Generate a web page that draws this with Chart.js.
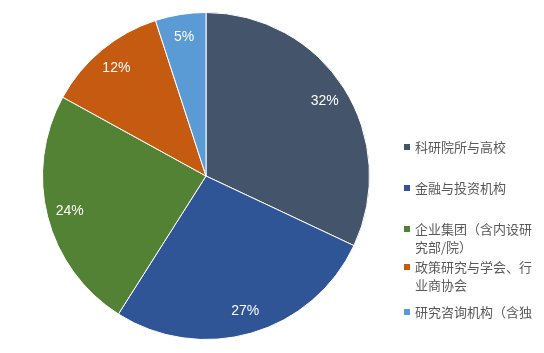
<!DOCTYPE html>
<html lang="zh">
<head>
<meta charset="UTF-8">
<title>机构类型分布</title>
<script src="https://cdn.jsdelivr.net/npm/chart.js"></script>
<style>
    html, body { margin: 0; padding: 0; background: #fff; }
    #wrap { width: 544px; height: 353px; position: relative; }
</style>
</head>
<body>
<div id="wrap"><canvas id="pie" width="544" height="353"></canvas></div>
<script>
// data
const categories = [
    ['科研院所与高校'],
    ['金融与投资机构'],
    ['企业集团（含内设研', '究部/院）'],
    ['政策研究与学会、行', '业商协会'],
    ['研究咨询机构（含独']
];
const shares = [32, 27, 24, 12, 5];
const colors = ['#44546A', '#2F5597', '#548235', '#C55A11', '#5B9BD5'];

// white percentage labels inside slices
const sliceLabels = {
    id: 'sliceLabels',
    afterDatasetsDraw(chart) {
        const ctx = chart.ctx;
        const meta = chart.getDatasetMeta(0);
        ctx.save();
        ctx.fillStyle = '#fff';
        ctx.font = '14px "Liberation Sans", Arial, sans-serif';
        ctx.textAlign = 'center';
        ctx.textBaseline = 'middle';
        meta.data.forEach((arc, i) => {
            const p = arc.getProps(['x', 'y', 'startAngle', 'endAngle', 'outerRadius'], true);
            const mid = (p.startAngle + p.endAngle) / 2;
            const r = p.outerRadius * 0.86;
            ctx.fillText(shares[i] + '%', p.x + Math.cos(mid) * r, p.y + Math.sin(mid) * r);
        });
        ctx.restore();
    }
};

// legend drawn on the right, like the office chart
const sideLegend = {
    id: 'sideLegend',
    afterDraw(chart) {
        const ctx = chart.ctx;
        const tops = [147, 188, 229, 267, 312];
        const lineH = 18;
        ctx.save();
        ctx.font = '13px "Noto Sans CJK SC", sans-serif';
        ctx.textBaseline = 'middle';
        ctx.textAlign = 'left';
        categories.forEach((lines, i) => {
            ctx.fillStyle = colors[i];
            ctx.fillRect(404, tops[i] - 3, 6, 6);
            ctx.fillStyle = '#595959';
            lines.forEach((t, j) => ctx.fillText(t, 415, tops[i] + j * lineH));
        });
        ctx.restore();
    }
};

new Chart(document.getElementById('pie'), {
    type: 'pie',
    data: {
        labels: categories.map(l => l.join('')),
        datasets: [{
            data: shares,
            backgroundColor: colors,
            borderColor: '#fff',
            borderWidth: 1
        }]
    },
    options: {
        responsive: false,
        animation: false,
        layout: { padding: { left: 42, right: 174, top: 12, bottom: 13 } },
        plugins: {
            legend: { display: false },
            tooltip: { enabled: false }
        }
    },
    plugins: [sliceLabels, sideLegend]
});
</script>
</body>
</html>
